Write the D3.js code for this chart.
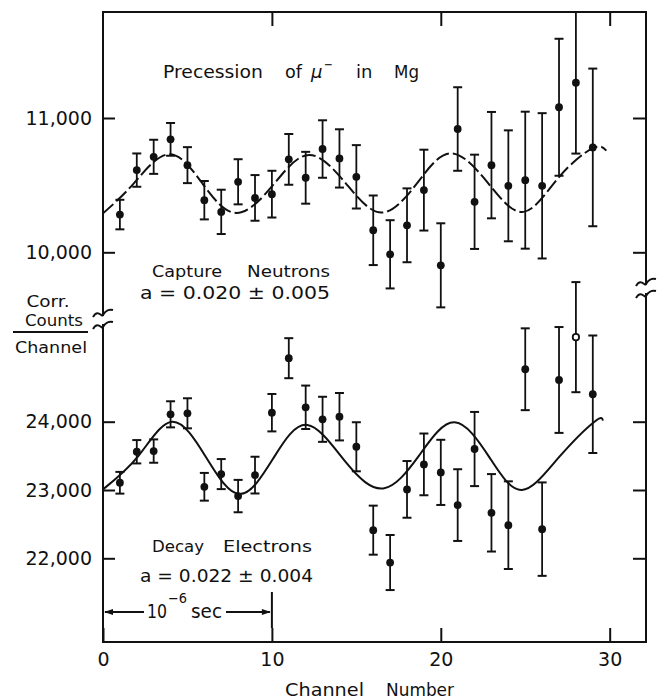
<!DOCTYPE html>
<html>
<head>
<meta charset="utf-8">
<script src="https://cdn.jsdelivr.net/npm/d3@7"></script>
<style>
  body { margin: 0; background: #fff; }
  svg { display: block; background: #fff; }
  text { font-family: "DejaVu Sans", sans-serif; fill: #111; }
</style>
</head>
<body>
<svg id="chart"></svg>
<script>
/* Data */

// Channel numbers
var channels = [1, 2, 3, 4, 5, 6, 7, 8, 9, 10, 11, 12, 13, 14, 15, 16, 17, 18, 19, 20, 21, 22, 23, 24, 25, 26, 27, 28, 29];

// Capture neutrons: corrected counts per channel, with errors
var neutronCounts = [10281, 10612, 10711, 10841, 10649, 10388, 10301, 10525, 10405, 10433, 10692, 10555, 10769, 10699, 10562,
                     10164, 9985, 10201, 10463, 9903, 10918, 10376, 10649, 10495, 10537, 10495, 11080, 11263, 10781];
var neutronErrors = [110, 124, 127, 122, 134, 143, 165, 168, 170, 174, 189, 193, 214, 217, 236,
                     259, 254, 275, 301, 313, 311, 351, 396, 413, 510, 541, 510, 528, 587];

// Decay electrons: corrected counts per channel, with errors
var electronCounts = [23106, 23560, 23570, 24108, 24123, 23047, 23233, 22911, 23218, 24132, 24930, 24211, 24035, 24073, 23633,
                      22412, 21938, 23009, 23375, 23258, 22779, 23600, 22666, 22485, 24768, 22427, 24611, 25238, 24402];
var electronErrors = [159, 171, 171, 191, 220, 203, 220, 237, 269, 274, 293, 318, 330, 347, 359,
                      359, 403, 415, 452, 477, 525, 543, 567, 642, 599, 684, 775, 806, 860];
// channels plotted with an open circle
var electronOpen = [28];

// Fitted precession curves, [channel, counts]
var neutronFit = [[0, 10290], [1.8, 10510], [3.9, 10730], [5.9, 10510], [7.9, 10293], [10.1, 10505], [12.2, 10725],
                  [14.4, 10510], [16.5, 10296], [18.6, 10515], [20.6, 10737], [22.8, 10515], [24.9, 10301],
                  [27.0, 10560], [29.0, 10775], [29.8, 10757]];
var electronFit = [[0, 23009], [2.1, 23500], [4.1, 24000], [6.1, 23480], [8.1, 22940], [10.1, 23470], [12.1, 23952],
                   [14.4, 23400], [16.6, 23023], [18.7, 23500], [20.8, 23991], [22.9, 23470], [24.8, 23000],
                   [27.0, 23480], [29.1, 24000], [29.6, 24015]];

// Tick values
var xTicks = [0, 10, 20, 30];
var neutronTicks = [10000, 11000];
var electronTicks = [22000, 23000, 24000];


/* Layout */
var width = 662, height = 700;
var frame = {left: 103, right: 646, top: 12, bottom: 642};
var ink = "#111";

var svg = d3.select("#chart")
    .attr("width", width)
    .attr("height", height);

var x = d3.scaleLinear().domain([0, 32.15]).range([frame.left, frame.right]);
var yN = d3.scaleLinear().domain([10000, 11000]).range([252.3, 118]);
var yE = d3.scaleLinear().domain([22000, 24000]).range([558.3, 421.7]);

// Axis ticks (frame drawn separately because of the breaks)
function styleAxis(g) {
    g.select(".domain").remove();
    g.selectAll(".tick line").attr("stroke", ink).attr("stroke-width", 2);
    g.selectAll(".tick text").style("font-size", "19px").attr("fill", ink);
}

[[yN, neutronTicks], [yE, electronTicks]].forEach(function(p) {
    svg.append("g")
        .attr("transform", "translate(" + frame.left + ",0)")
        .call(d3.axisLeft(p[0]).tickValues(p[1]).tickSizeInner(-12).tickSizeOuter(0)
            .tickPadding(11).tickFormat(d3.format(",")))
        .call(styleAxis);
    svg.append("g")
        .attr("transform", "translate(" + frame.right + ",0)")
        .call(d3.axisRight(p[0]).tickValues(p[1]).tickSizeInner(-13).tickSizeOuter(0).tickFormat(""))
        .call(styleAxis);
});

svg.append("g")
    .attr("transform", "translate(0," + frame.bottom + ")")
    .call(d3.axisBottom(x).tickValues(xTicks).tickSizeInner(-14).tickSizeOuter(0).tickPadding(10.5))
    .call(styleAxis);

svg.append("g")
    .attr("transform", "translate(0," + frame.top + ")")
    .call(d3.axisTop(x).tickValues(xTicks.slice(1)).tickSizeInner(-14).tickSizeOuter(0).tickFormat(""))
    .call(styleAxis);

// Frame with breaks on the vertical axes
var leftBreak = 320, rightBreak = 289;
var framePath = [
    [[frame.left, leftBreak - 4], [frame.left, frame.top], [frame.right, frame.top], [frame.right, rightBreak - 4]],
    [[frame.right, rightBreak + 4], [frame.right, frame.bottom], [frame.left, frame.bottom], [frame.left, leftBreak + 4]]
];
svg.selectAll(".frame")
    .data(framePath)
    .enter().append("path")
    .attr("d", d3.line())
    .attr("fill", "none")
    .attr("stroke", ink)
    .attr("stroke-width", 2);

// Break marks (two tildes)
function tilde(cx, cy) {
    return "M" + (cx - 10) + "," + (cy + 3) +
        " C" + (cx - 5) + "," + (cy - 6) + " " + (cx - 1) + "," + (cy + 4) + " " + cx + "," + (cy + 1) +
        " C" + (cx + 2) + "," + (cy - 3) + " " + (cx + 6) + "," + (cy - 5) + " " + (cx + 10) + "," + (cy - 4);
}
[[frame.left, leftBreak], [frame.right, rightBreak]].forEach(function(b) {
    [-6, 6].forEach(function(dy) {
        svg.append("path")
            .attr("d", tilde(b[0], b[1] + dy))
            .attr("fill", "none")
            .attr("stroke", ink)
            .attr("stroke-width", 2);
    });
});

// Fitted curves
var neutronLine = d3.line().x(function(d) { return x(d[0]); }).y(function(d) { return yN(d[1]); }).curve(d3.curveNatural);
var electronLine = d3.line().x(function(d) { return x(d[0]); }).y(function(d) { return yE(d[1]); }).curve(d3.curveNatural);

svg.append("path")
    .attr("d", neutronLine(neutronFit))
    .attr("fill", "none")
    .attr("stroke", ink)
    .attr("stroke-width", 2)
    .attr("stroke-dasharray", "14,4");

svg.append("path")
    .attr("d", electronLine(electronFit))
    .attr("fill", "none")
    .attr("stroke", ink)
    .attr("stroke-width", 2);

// Data points with error bars
function drawSeries(y, counts, errors, open) {
    var data = channels.map(function(c, i) {
        return {ch: c, v: counts[i], e: errors[i], open: open.indexOf(c) >= 0};
    });
    var g = svg.append("g");
    var pts = g.selectAll("g").data(data).enter().append("g");

    pts.append("line")
        .attr("x1", function(d) { return x(d.ch); })
        .attr("x2", function(d) { return x(d.ch); })
        .attr("y1", function(d) { return Math.max(y(d.v + d.e), frame.top); })
        .attr("y2", function(d) { return y(d.v - d.e); })
        .attr("stroke", ink)
        .attr("stroke-width", 1.8);

    [1, -1].forEach(function(s) {
        pts.append("line")
            .attr("x1", function(d) { return x(d.ch) - 4.5; })
            .attr("x2", function(d) { return x(d.ch) + 4.5; })
            .attr("y1", function(d) { return Math.max(y(d.v + s * d.e), frame.top); })
            .attr("y2", function(d) { return Math.max(y(d.v + s * d.e), frame.top); })
            .attr("stroke", ink)
            .attr("stroke-width", 2);
    });

    pts.append("circle")
        .attr("cx", function(d) { return x(d.ch); })
        .attr("cy", function(d) { return y(d.v); })
        .attr("r", function(d) { return d.open ? 3.2 : 3.9; })
        .attr("fill", function(d) { return d.open ? "#fff" : ink; })
        .attr("stroke", ink)
        .attr("stroke-width", function(d) { return d.open ? 1.8 : 0; });
}
drawSeries(yN, neutronCounts, neutronErrors, []);
drawSeries(yE, electronCounts, electronErrors, electronOpen);

// Text labels
function label(str, px, py, size, len, extra) {
    var t = svg.append("text")
        .attr("x", px)
        .attr("y", py)
        .style("font-size", size + "px")
        .text(str);
    if (len) t.attr("textLength", len).attr("lengthAdjust", "spacingAndGlyphs");
    if (extra) extra(t);
    return t;
}

// title
label("Precession", 163, 78, 18, 100);
label("of", 285, 78, 18, 17);
label("\u03bc", 311, 78, 18, 0, function(t) { t.style("font-style", "italic"); });
label("\u2212", 324, 69, 13, 9);
label("in", 356, 78, 18, 0);
label("Mg", 394, 78, 18, 25);

// panel labels
label("Capture", 152, 277, 16, 70);
label("Neutrons", 247, 277, 16, 83);
label("a = 0.020 \u00b1 0.005", 140, 299, 18, 190);
label("Decay", 152, 552, 16, 52);
label("Electrons", 223, 552, 16, 89);
label("a = 0.022 \u00b1 0.004", 140, 582, 18, 173);

// y axis title
var mid = function(t) { t.attr("text-anchor", "middle"); };
label("Corr.", 48, 307, 16, 43, mid);
label("Counts", 54, 326, 16, 58, mid);
svg.append("line")
    .attr("x1", 13).attr("x2", 88)
    .attr("y1", 332).attr("y2", 332)
    .attr("stroke", ink).attr("stroke-width", 1.8);
label("Channel", 51, 353, 16, 72, mid);

// x axis title
label("Channel", 285, 696, 18, 79);
label("Number", 386, 696, 18, 68);

// 10^-6 sec marker
var arrowY = 612;
svg.append("line")
    .attr("x1", x(0) + 2).attr("x2", 144)
    .attr("y1", arrowY).attr("y2", arrowY)
    .attr("stroke", ink).attr("stroke-width", 1.8);
svg.append("line")
    .attr("x1", 226).attr("x2", x(10) - 2)
    .attr("y1", arrowY).attr("y2", arrowY)
    .attr("stroke", ink).attr("stroke-width", 1.8);
svg.append("path")
    .attr("d", "M" + (x(0) + 1) + "," + arrowY + " l9,-3 l0,6 z")
    .attr("fill", ink);
svg.append("path")
    .attr("d", "M" + (x(10) - 1) + "," + arrowY + " l-9,-3 l0,6 z")
    .attr("fill", ink);
svg.append("line")
    .attr("x1", x(10)).attr("x2", x(10))
    .attr("y1", 592).attr("y2", 628)
    .attr("stroke", ink).attr("stroke-width", 2);
label("10", 147, 618, 19, 20);
label("\u22126", 168, 603, 14, 19);
label("sec", 191, 618, 19, 31);
</script>
</body>
</html>
